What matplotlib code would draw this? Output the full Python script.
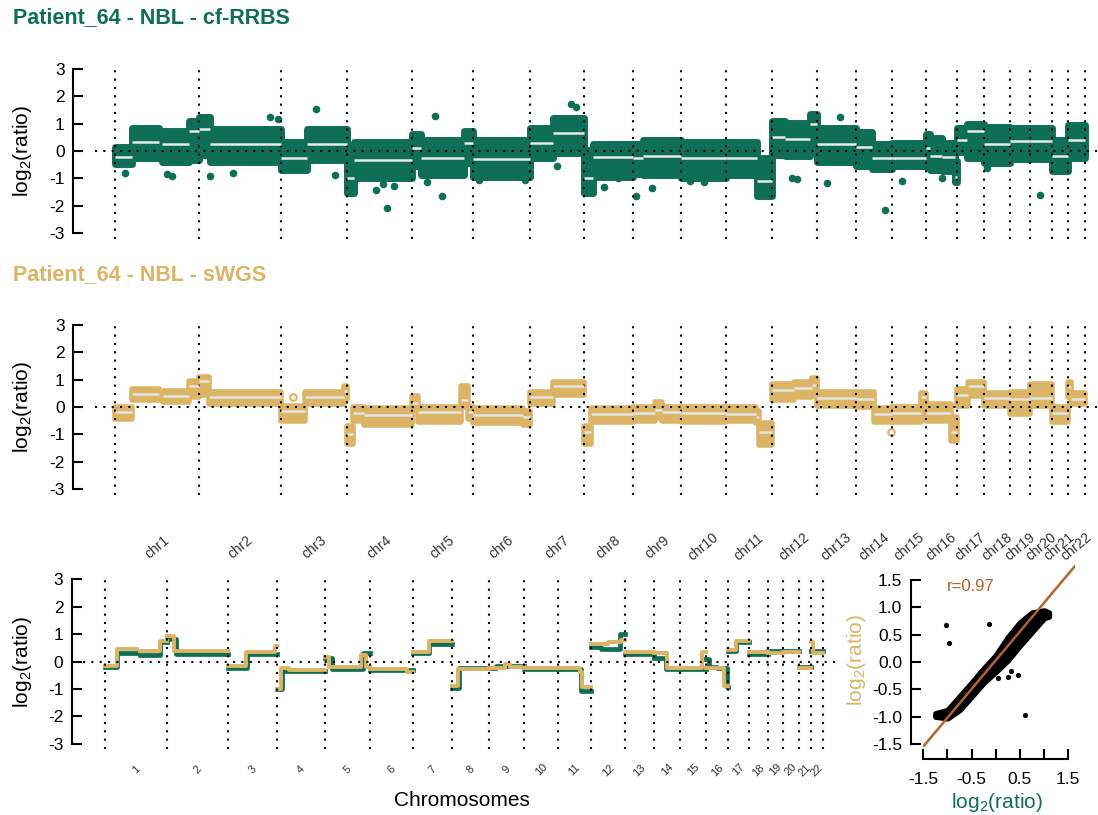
import numpy as np
import matplotlib
matplotlib.use('Agg')
import matplotlib.pyplot as plt
from matplotlib.transforms import blended_transform_factory

plt.rcParams['font.family'] = ['Liberation Sans', 'DejaVu Sans']
plt.rcParams['mathtext.default'] = 'regular'
plt.rcParams['axes.unicode_minus'] = False

GREEN = '#0f6e56'
TAN = '#dbb466'
BROWN = '#b0642c'

# chromosome sizes (Mb)
chrom_names = ['chr1', 'chr2', 'chr3', 'chr4', 'chr5', 'chr6', 'chr7', 'chr8', 'chr9', 'chr10', 'chr11',
               'chr12', 'chr13', 'chr14', 'chr15', 'chr16', 'chr17', 'chr18', 'chr19', 'chr20', 'chr21', 'chr22']
chrom_nums = ['1', '2', '3', '4', '5', '6', '7', '8', '9', '10', '11',
              '12', '13', '14', '15', '16', '17', '18', '19', '20', '21', '22']
chrom_len = [249.3, 243.2, 198.0, 191.2, 180.9, 171.1, 159.1, 146.4, 141.2, 135.5, 135.0,
             133.9, 115.2, 107.3, 102.5, 90.4, 81.2, 78.1, 59.1, 63.0, 48.1, 51.3]

# cf-RRBS segments: chromosome, start/end (fraction of chromosome), segment level, cloud top/bottom
rrbs_chr = [1, 1, 1, 1, 2, 2, 3, 3, 4, 4, 5, 5, 5, 6, 7, 7, 8, 8, 9, 9, 10, 11, 11, 12, 12, 12, 13, 14, 14, 15,
            16, 16, 16, 16, 17, 17, 18, 19, 20, 21, 22]
rrbs_start = [0, .2, .56, .88, 0, .14, 0, .39, 0, .1, 0, .15, .85, 0, 0, .42, 0, .18, 0, .2, 0, 0, .68, 0, .3, .85,
              0, 0, .45, 0, 0, .12, .5, .93, 0, .38, 0, 0, 0, 0, 0]
rrbs_end = [.2, .52, .88, 1, .14, 1, .39, 1, .1, 1, .15, .85, 1, 1, .42, 1, .18, 1, .2, 1, 1, .68, 1, .3, .85, 1,
            1, .45, 1, 1, .12, .5, .93, 1, .38, 1, 1, 1, 1, 1, 1]
rrbs_level = [-.21, .32, .25, .73, .81, .26, -.24, .26, -1.0, -.33, .12, -.27, .3, -.3, .3, .65, -.98, -.23,
              -.25, -.18, -.27, -.27, -1.08, .52, .45, 1.0, .26, .13, -.27, -.27, .1, -.2, -.23, -.94,
              .4, .72, .26, .37, .37, -.19, .39]
rrbs_hi = [.2, .9, .8, 1.15, 1.3, .85, .4, .85, .15, .4, .7, .45, .8, .45, .9, 1.25, .1, .3, .3, .45, .4, .4, -.2,
           1.15, 1.1, 1.4, .9, .75, .3, .35, .7, .55, .35, -.3, .9, 1.05, .95, .9, .9, .45, 1.0]
rrbs_lo = [-.55, -.3, -.45, -.4, -.2, -.45, -.75, -.4, -1.6, -1.05, -.6, -.95, -.5, -1.0, -.3, -.15, -1.6, -1.0,
           -.9, -.95, -1.05, -.95, -1.7, -.2, -.25, .15, -.45, -.6, -.72, -.6, -.6, -.75, -.8, -1.2,
           -.1, -.3, -.5, -.35, -.35, -.8, -.3]

# isolated cf-RRBS bins
rrbs_out_chr = [1, 1, 1, 2, 2, 2, 2, 3, 3, 4, 4, 4, 4, 5, 5, 5, 6, 6, 7, 7, 7, 8, 8, 9, 9, 10, 10, 12, 12,
                13, 13, 14, 15, 16, 18, 20]
rrbs_out_pos = [.12, .62, .68, .14, .42, .87, .96, .53, .82, .62, .45, .55, .72, .38, .5, .25, .1, .9,
                .75, .85, .5, .4, .7, .05, .4, .5, .2, .45, .55, .25, .6, .8, .3, .5, .1, .45]
rrbs_out_val = [-.82, -.85, -.92, -.92, -.8, 1.26, 1.17, 1.53, -.86, -2.08, -1.43, -1.22, -1.28, 1.27, -1.65,
                -1.15, -1.05, -1.05, 1.72, 1.6, -.55, -1.3, -1.0, -1.65, -1.35, -1.15, -1.1, -1.0, -1.02,
                -1.18, 1.26, -2.16, -1.1, -1.0, -.63, -1.6]

# sWGS segments
swgs_chr = [1, 1, 1, 1, 2, 2, 3, 3, 3, 4, 4, 4, 5, 5, 5, 5, 6, 6, 7, 7, 8, 8, 9, 9, 9, 10, 11, 11, 11,
            12, 12, 12, 13, 14, 14, 15, 15, 16, 16, 17, 17, 18, 19, 20, 21, 22, 22]
swgs_start = [0, .2, .57, .88, 0, .12, 0, .36, .95, 0, .08, .25, 0, .1, .8, .92, 0, .88, 0, .42, 0, .15,
              0, .45, .6, 0, 0, .65, .72, 0, .5, .9, 0, 0, .5, 0, .85, 0, .8, 0, .4, 0, 0, 0, 0, 0, .2]
swgs_end = [.2, .52, .88, 1, .12, 1, .36, .95, 1, .08, .25, 1, .1, .8, .92, 1, .88, 1, .42, 1, .15, 1,
            .45, .6, 1, 1, .65, .72, 1, .5, .9, 1, 1, .5, 1, .85, 1, .8, 1, .4, 1, 1, 1, 1, 1, .2, 1]
swgs_level = [-.17, .46, .4, .75, .95, .38, -.15, .35, .58, -1.0, -.22, -.3, .15, -.2, .25, -.2, -.28, -.38,
              .35, .76, -.91, -.27, -.22, -.1, -.2, -.22, -.25, -.37, -.93, .63, .7, .8, .34, .3, -.25,
              -.22, .35, -.22, -.9, .43, .76, .34, .3, .34, -.22, .73, .3]
swgs_hi = [.05, .7, .65, 1.0, 1.15, .6, .1, .6, .8, -.65, .05, 0, .45, .05, .8, .05, 0, -.1, .6, .95, -.65, 0,
           .05, .25, .05, .05, .05, -.1, -.55, .9, .95, 1.1, .6, .6, 0, .05, .55, .15, -.3, .7, .95, .55,
           .6, .9, .05, .95, .55]
swgs_lo = [-.5, .2, .15, .3, .4, .05, -.55, .05, .25, -1.4, -.55, -.7, -.15, -.6, -.05, -.5, -.65, -.7, .05, .4,
           -1.4, -.6, -.55, -.45, -.55, -.6, -.55, -.65, -1.45, .2, .3, .45, 0, -.05, -.6, -.6, -.3, -.55,
           -1.3, 0, .35, 0, -.3, 0, -.6, .3, .05]

swgs_out_chr = [3, 14]
swgs_out_pos = [.18, .98]
swgs_out_val = [.38, -.9]

# cf-RRBS vs sWGS scatter: dense band (x, lower, upper), isolated bins, fit
corr_band_x = [-1.25, -1.0, -0.75, -0.5, -0.25, 0.0, 0.25, 0.5, 0.75, 1.0, 1.1]
corr_band_lo = [-1.0, -1.03, -0.88, -0.63, -0.38, -0.18, 0.03, 0.3, 0.55, 0.8, 0.83]
corr_band_hi = [-0.94, -0.88, -0.63, -0.38, -0.12, 0.12, 0.45, 0.72, 0.9, 0.94, 0.9]
corr_out_x = [-1.03, -0.97, -0.14, 0.05, 0.25, 0.32, 0.45, 0.6]
corr_out_y = [0.67, 0.35, 0.69, -0.29, -0.27, -0.17, -0.24, -0.97]
corr_slope = 1.05
corr_icpt = 0.03
corr_r = 0.97
corr_ticks = [-1.5, -1.0, -0.5, 0.0, 0.5, 1.0, 1.5]

offsets = np.concatenate([[0], np.cumsum(chrom_len)])
total = offsets[-1]
mids = (offsets[:-1] + offsets[1:]) / 2

W, H = 1098, 815
fig = plt.figure(figsize=(W / 100, H / 100), dpi=100)


def px_axes(left, right, top, bottom):
    return fig.add_axes([left / W, 1 - bottom / H, (right - left) / W, (bottom - top) / H])


def gpos(c, f):
    return offsets[c - 1] + f * chrom_len[c - 1]


def style_profile_axis(ax, x0px, x1px, xl, xr, spine_px):
    s = total / (x1px - x0px)
    ax.set_xlim(-(x0px - xl) * s, total + (xr - x1px) * s)
    ax.set_ylim(-3.2, 3.2)
    for sp in ['top', 'right', 'bottom']:
        ax.spines[sp].set_visible(False)
    ax.spines['left'].set_position(('outward', spine_px * 0.72))
    ax.spines['left'].set_bounds(-3, 3)
    ax.spines['left'].set_linewidth(1.5)
    ax.set_yticks([-3, -2, -1, 0, 1, 2, 3])
    ax.tick_params(axis='y', direction='in', length=7, width=1.5, labelsize=12.5, pad=6)
    ax.set_xticks([])
    for b in offsets:
        ax.axvline(b, color='k', lw=1.5, ls=(0, (1, 3)), zorder=4)
    ax.axhline(0, color='k', lw=1.5, ls=(0, (1, 3)), zorder=4)


def draw_clouds(ax, chrs, st, en, lvl, hi, lo, color, seg_color, edge, inset):
    # cloud of bins as a block with a thick round-joined rim, segment mean in light grey
    for c, a, b, l, h, d in zip(chrs, st, en, lvl, hi, lo):
        x0, x1 = gpos(c, a), gpos(c, b)
        pc = ax.fill_between([x0, x1], [d + inset] * 2, [h - inset] * 2, facecolor=color,
                             edgecolor=color, lw=edge, zorder=2)
        pc.set_joinstyle('round')
        ax.plot([x0, x1], [l, l], color=seg_color, lw=1.8, solid_capstyle='butt', zorder=5)


# --- top: cf-RRBS
ax1 = px_axes(95, 1098, 63.5, 238.5)
style_profile_axis(ax1, 115, 1085, 95, 1098, 22)
draw_clouds(ax1, rrbs_chr, rrbs_start, rrbs_end, rrbs_level, rrbs_hi, rrbs_lo, GREEN, '#e8ece9', 5, 0.06)
ax1.scatter([gpos(c, f) for c, f in zip(rrbs_out_chr, rrbs_out_pos)], rrbs_out_val,
            s=30, color=GREEN, lw=0, zorder=2)

# --- middle: sWGS
ax2 = px_axes(95, 1098, 319.5, 494.5)
style_profile_axis(ax2, 115, 1085, 95, 1098, 22)
draw_clouds(ax2, swgs_chr, swgs_start, swgs_end, swgs_level, swgs_hi, swgs_lo, TAN, '#e4e4e4', 4, 0.05)
ax2.scatter([gpos(c, f) for c, f in zip(swgs_out_chr, swgs_out_pos)], swgs_out_val,
            s=22, facecolor='white', edgecolor=TAN, lw=1.5, zorder=2)
tr2 = blended_transform_factory(ax2.transData, ax2.transAxes)
for m, name in zip(mids, chrom_names):
    ax2.text(m, -0.3, name, transform=tr2, rotation=40, ha='center', va='center',
             fontsize=10, color='#333333', clip_on=False)


# --- bottom: both profiles
def step_runs(chrs, st, en, lvl):
    runs, xs, ys, prev = [], [], [], None
    for c, a, b, l in zip(chrs, st, en, lvl):
        x0, x1 = gpos(c, a), gpos(c, b)
        if prev is not None and prev[0] == c and abs(prev[1] - a) < 1e-9:
            xs += [x0, x1]
            ys += [l, l]
        else:
            if xs:
                runs.append((xs, ys))
            xs, ys = [x0, x1], [l, l]
        prev = (c, b)
    runs.append((xs, ys))
    return runs


ax3 = px_axes(83, 838, 574, 749)
style_profile_axis(ax3, 105, 823.3, 83, 838, 11.3)
for xs, ys in step_runs(rrbs_chr, rrbs_start, rrbs_end, rrbs_level):
    ax3.plot(xs, ys, color=GREEN, lw=3.4, zorder=2, solid_joinstyle='round')
for xs, ys in step_runs(swgs_chr, swgs_start, swgs_end, swgs_level):
    ax3.plot(xs, ys, color=TAN, lw=2.8, zorder=3, solid_joinstyle='round')
tr3 = blended_transform_factory(ax3.transData, ax3.transAxes)
for m, name in zip(mids, chrom_nums):
    ax3.text(m, -0.12, name, transform=tr3, rotation=45, ha='center', va='center',
             fontsize=8, color='#333333', clip_on=False)
fig.text(462 / W, 1 - 801 / H, 'Chromosomes', ha='center', va='center', fontsize=15)

# --- correlation scatter
ax4 = px_axes(923.3, 1075, 565, 747.3)
ax4.set_xlim(-1.5, 1.64)
ax4.set_ylim(-1.56, 1.77)
pc = ax4.fill_between(corr_band_x, corr_band_lo, corr_band_hi, color='black', lw=4, zorder=2)
pc.set_joinstyle('round')
ax4.scatter(corr_out_x, corr_out_y, s=14, color='black', lw=0, zorder=2)
ax4.axline((0, corr_icpt), slope=corr_slope, color=BROWN, lw=1.8, zorder=3)
ax4.text(-0.52, 1.38, f'r={corr_r:.2f}', color=BROWN, fontsize=12, ha='center', va='center')
for sp in ['top', 'right']:
    ax4.spines[sp].set_visible(False)
ax4.spines['left'].set_position(('outward', 12.6 * 0.72))
ax4.spines['bottom'].set_position(('outward', 12 * 0.72))
for sp in ['left', 'bottom']:
    ax4.spines[sp].set_bounds(-1.5, 1.5)
    ax4.spines[sp].set_linewidth(1.5)
ax4.set_xticks(corr_ticks)
ax4.set_xticklabels([f'{t:.1f}' if i % 2 == 0 else '' for i, t in enumerate(corr_ticks)])
ax4.set_yticks(corr_ticks)
ax4.set_yticklabels([f'{t:.1f}' for t in corr_ticks])
ax4.tick_params(direction='in', length=7, width=1.5, labelsize=12.5, pad=6)
ax4.tick_params(axis='x', pad=9)

# --- labels and titles
ylab = r'log$_2$(ratio)'
for yc in [151, 407, 662]:
    fig.text(22 / W, 1 - yc / H, ylab, rotation=90, ha='center', va='center', fontsize=15)
fig.text(857 / W, 1 - 660 / H, ylab, rotation=90, ha='center', va='center', fontsize=15, color=TAN)
fig.text(997 / W, 1 - 802 / H, ylab, ha='center', va='center', fontsize=15, color=GREEN)
fig.text(13 / W, 1 - 18 / H, 'Patient_64 - NBL - cf-RRBS', fontsize=15.5, fontweight='bold',
         color=GREEN, va='center')
fig.text(13 / W, 1 - 275 / H, 'Patient_64 - NBL - sWGS', fontsize=15.5, fontweight='bold',
         color=TAN, va='center')

fig.savefig('out.png', dpi=100, facecolor='white')
